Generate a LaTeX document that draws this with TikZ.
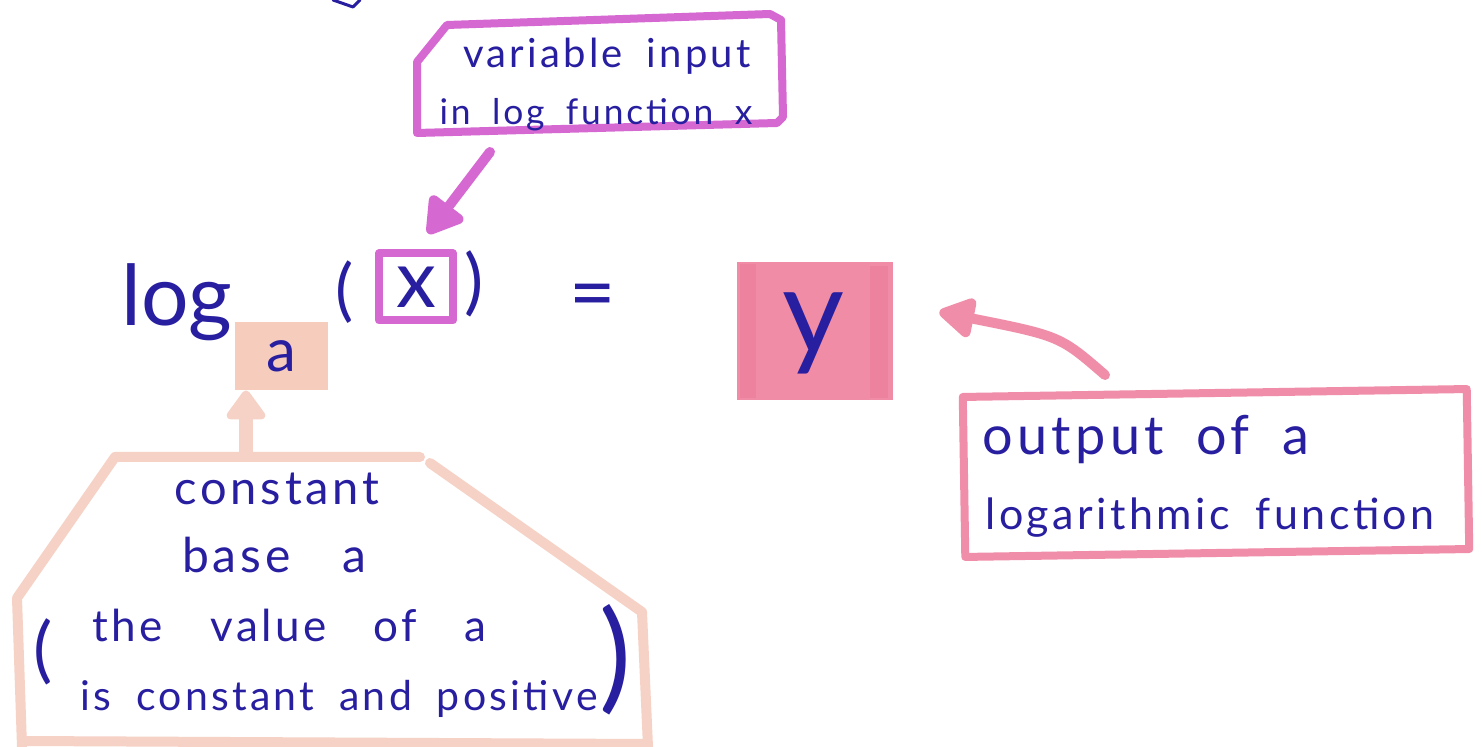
\documentclass[tikz,border=0pt]{standalone}
\usepackage{fontspec}
\setmainfont{Lato}[LetterSpace=8,WordSpace=1.8]
\newfontfamily\widefont{Lato}[LetterSpace=8,WordSpace=3.2]
\newfontfamily\bigfont{Lato}
\usetikzlibrary{arrows.meta}
\definecolor{ink}{RGB}{40,30,160}
\definecolor{mag}{RGB}{214,104,210}
\definecolor{peach}{RGB}{246,210,198}
\definecolor{peachfill}{RGB}{246,204,188}
\definecolor{rose}{RGB}{240,142,170}
\definecolor{rosefill}{RGB}{240,140,165}
\definecolor{rosedark}{RGB}{236,130,158}
\begin{document}
\begin{tikzpicture}[x=0.5pt,y=-0.5pt,
  hand/.style={text=ink, inner sep=0pt, font=\fontsize{#1}{#1}\selectfont},
  hand/.default=22,
  wide/.style={text=ink, inner sep=0pt, font=\widefont\fontsize{#1}{#1}\selectfont},
  sym/.style={text=ink, inner sep=0pt, font=\bigfont\fontsize{#1}{#1}\selectfont},
  marker/.style={line width=#1, line cap=round, line join=round},
  magbox/.style={draw=mag, marker=4pt},
  peachbox/.style={draw=peach, marker=5pt},
  rosebox/.style={draw=rose, marker=4pt},
  magarrow/.style={mag, marker=5pt, -{Triangle[length=20pt,width=23pt,round]}},
  peacharrow/.style={peach, marker=7pt, -{Triangle[length=16pt,width=22pt,round]}},
  rosearrow/.style={rose, marker=5pt, -{Triangle[length=20pt,width=22pt,round]}},
]
\fill[white] (0,0) rectangle (1482,747);
\useasboundingbox (0,0) rectangle (1482,747);

% pen stroke entering at the top edge
\draw[ink, line width=1.5pt, line cap=round, line join=round] (333,0) -- (353,7) -- (360,0);

% --- callout for the argument x ---
\draw[magbox] (417,62) -- (447,25) -- (770,14) -- (781,20) -- (783,117) -- (777,123) -- (417,133) -- cycle;
\node[hand=20, anchor=base] (varA) at (607,68) {variable input};
\node[hand=17.7, anchor=base] (varB) at (596,125) {in log function x};
\coordinate (magtail) at (490,152);

% --- the equation ---
\node[sym=42, anchor=base] (log) at (177,326) {log};
\node[fill=peachfill, minimum width=46.5pt, minimum height=34pt, inner sep=0pt,
      text=ink, font=\bigfont\fontsize{30}{30}\selectfont] (abase) at (281,356) {a};
\node[sym=34] (lpar) at (345,292) {(};
\node[draw=mag, marker=4pt, minimum width=37pt, minimum height=33.5pt, inner sep=0pt,
      text=ink, font=\bigfont\fontsize{40}{40}\selectfont] (xin) at (416,287) {x};
\node[sym=36] (rpar) at (474,284) {)};
\node[sym=40] (eq) at (593,302) {=};

\node[fill=rosefill, minimum width=78pt, minimum height=69pt, inner sep=0pt] (ybox) at (815,331) {};
\fill[rosedark] (740,264) rectangle (756,398);
\fill[rosedark] (870,266) rectangle (888,398);
\node[sym=60] (yout) at (813,333) {y};

% --- callout for the output y ---
\node[draw=rose, marker=4pt, minimum width=252pt, minimum height=80pt, inner sep=0pt, rotate=0.9]
  (outbox) at (1216,473) {};
\node[hand=27, anchor=base west] (outA) at (982,455) {output of a};
\node[hand=21.5, anchor=base west] (outB) at (985,530) {logarithmic function};
\coordinate (rosetail) at (1105,375);

% --- callout for the base a ---
\draw[peachbox] (420,457) -- (115,457) -- (17,598) -- (22,747);
\draw[peachbox] (430,463) -- (642,612) -- (648,747);
\draw[peachbox] (22,741) -- (648,744);
\node[hand=23.5, anchor=base] (baseA) at (277,505) {constant};
\node[wide=24, anchor=base] (baseB) at (274,573) {base a};
\node[wide=22, anchor=base west] (baseC) at (92,642) {the value of a};
\node[hand=20.5, anchor=base west] (baseD) at (80,710) {is constant and positive};
\node[sym=36] (blpar) at (43,652) {(};
\node[sym=60] (brpar) at (616,660) {)};
\coordinate (peachtail) at (246,452);

% --- arrows ---
\draw[magarrow] (magtail) -- ([xshift=6pt,yshift=8pt]xin.north);
\draw[peacharrow] (peachtail) -- (peachtail |- abase.south);
\draw[rosearrow] (rosetail) .. controls (1060,336) .. ([xshift=23pt,yshift=9.5pt]ybox.east);
\end{tikzpicture}
\end{document}
